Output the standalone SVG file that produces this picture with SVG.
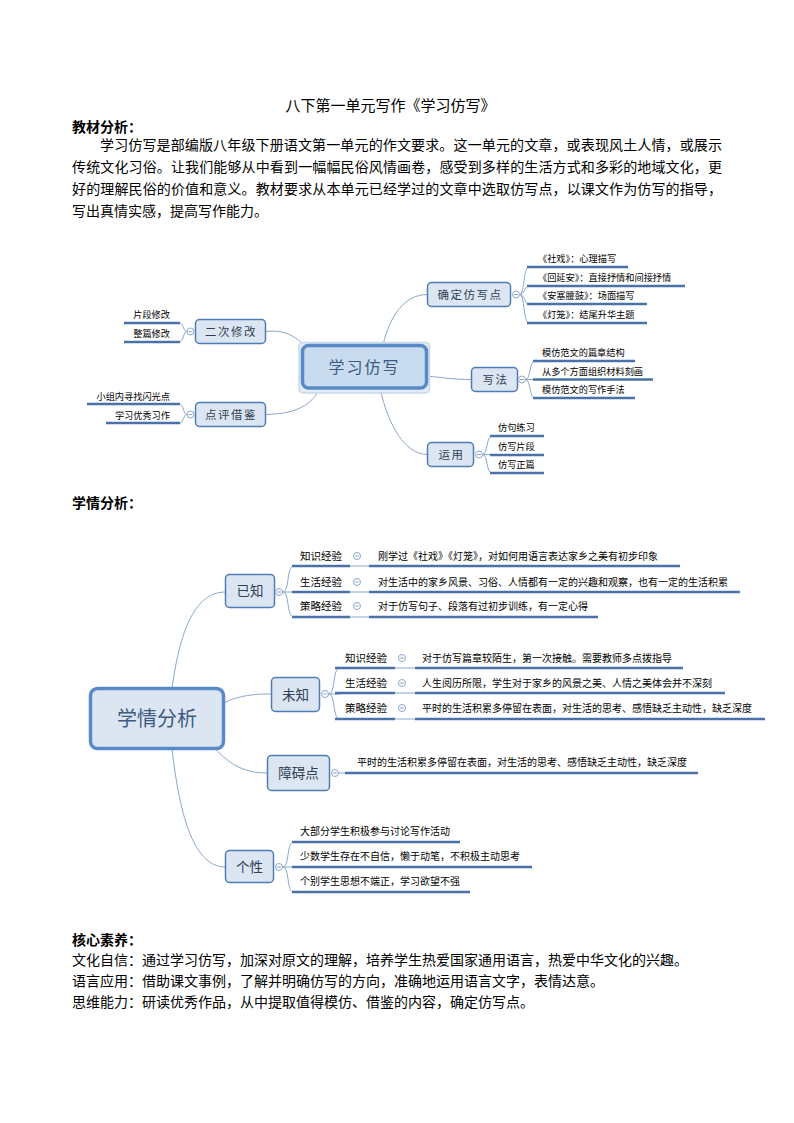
<svg xmlns="http://www.w3.org/2000/svg" width="794" height="1123" viewBox="0 0 794 1123">
<style>
text{font-family:"Liberation Sans","Noto Sans CJK SC",sans-serif;fill:#000}
.body{font-size:14px}
.bold{font-size:14px;font-weight:bold}
.node{fill:#dce6f2;stroke:#4f7cb5;stroke-width:1.5}
.ntxt{font-size:11.5px;fill:#2f3f55;text-anchor:middle;letter-spacing:1.5px}
.ntxt2{font-size:13.5px;fill:#2f3f55;text-anchor:middle}
.leaf{font-size:9.2px}
.leaf2{font-size:10px}
.lab{font-size:10.5px}
.ul{stroke:#4a72a8;stroke-width:2.4;fill:none}
.thin{stroke:#8aa6cc;stroke-width:1;fill:none}
.tog{fill:#fff;stroke:#8aa6cc;stroke-width:1}
.togm{stroke:#8aa6cc;stroke-width:1}
</style>
<defs>
<g id="toggle"><circle r="3.5" class="tog"/><line x1="-2" y1="0" x2="2" y2="0" class="togm"/></g>
</defs>

<!-- header text -->
<text x="390.5" y="111" text-anchor="middle" style="font-size:15px">八下第一单元写作《学习仿写》</text>
<text x="72" y="132" class="bold">教材分析：</text>
<text x="100" y="150" class="body" textLength="622" lengthAdjust="spacing">学习仿写是部编版八年级下册语文第一单元的作文要求。这一单元的文章，或表现风土人情，或展示</text>
<text x="72" y="172" class="body" textLength="650" lengthAdjust="spacing">传统文化习俗。让我们能够从中看到一幅幅民俗风情画卷，感受到多样的生活方式和多彩的地域文化，更</text>
<text x="72" y="194" class="body" textLength="650" lengthAdjust="spacing">好的理解民俗的价值和意义。教材要求从本单元已经学过的文章中选取仿写点，以课文作为仿写的指导，</text>
<text x="72" y="216" class="body">写出真情实感，提高写作能力。</text>

<!-- map 1 connectors -->
<g id="connectors1">
<path class="thin" d="M265.5,331.5 C285,329 296,337 305,346"/>
<path class="thin" d="M265.5,414.5 C296,414 312,405 320,388"/>
<path class="thin" d="M383,345 C390,315 405,294.5 427.5,294.5"/>
<path class="thin" d="M427,376 C445,378 455,379.5 471.5,379.5"/>
<path class="thin" d="M380,388 C388,425 405,454.5 427.5,454.5"/>
<!-- brackets -->
<path class="thin" d="M187,331.5 C183,331.5 184,323 179,323 M187,331.5 C183,331.5 184,342 179,342"/>
<path class="thin" d="M187,414.5 C183,414.5 184,404 179,404 M187,414.5 C183,414.5 184,423 179,423"/>
<path class="thin" d="M519.5,294.5 C525,294.5 523,267 529,267 M519.5,294.5 C525,294.5 524,286 529,286 M519.5,294.5 C525,294.5 524,304 529,304 M519.5,294.5 C525,294.5 523,323 529,323"/>
<path class="thin" d="M525.5,379.5 C531,379.5 529,361 535,361 M525.5,379.5 H535 M525.5,379.5 C531,379.5 529,398 535,398"/>
<path class="thin" d="M482.5,454.5 C488,454.5 486,436 492,436 M482.5,454.5 H492 M482.5,454.5 C488,454.5 486,473 492,473"/>
<!-- leaf underlines -->
<path class="ul" d="M124,323 H180 M124,342 H180 M87,404 H180 M106,423 H180"/>
<path class="ul" d="M527,267 H628 M527,286 H685 M527,304 H647 M527,323 H647"/>
<path class="ul" d="M533,361 H635 M533,379.5 H653 M533,398 H635"/>
<path class="ul" d="M490,436 H544 M490,455 H544 M490,473 H544"/>
</g>

<!-- map 1 nodes -->
<g id="center1">
<rect x="299" y="342.5" width="130.5" height="50.5" rx="4" fill="#e3ebf5" stroke="#c9d8ea" stroke-width="1.5"/>
<rect x="302.5" y="345.5" width="124" height="42.5" rx="6" fill="#c9dbef" stroke="#5a8ac6" stroke-width="3.5"/>
<text x="364.5" y="373" text-anchor="middle" style="font-size:16px;fill:#3d5a80;letter-spacing:2px">学习仿写</text>
</g>
<g id="n-erci">
<rect class="node" x="195.5" y="319.5" width="70" height="24" rx="4"/>
<text class="ntxt" x="231" y="335.5">二次修改</text>
<use href="#toggle" x="190.5" y="331.5"/>
<text class="leaf" x="170" y="318" text-anchor="end">片段修改</text>
<text class="leaf" x="170" y="337" text-anchor="end">整篇修改</text>
</g>
<g id="n-dianping">
<rect class="node" x="195.5" y="402.5" width="70" height="24" rx="4"/>
<text class="ntxt" x="231" y="418.5">点评借鉴</text>
<use href="#toggle" x="190.5" y="414.5"/>
<text class="leaf" x="170" y="400" text-anchor="end">小组内寻找闪光点</text>
<text class="leaf" x="170" y="419" text-anchor="end">学习优秀习作</text>
</g>
<g id="n-queding">
<rect class="node" x="427.5" y="282.5" width="83" height="24" rx="4"/>
<text class="ntxt" x="470" y="298.5">确定仿写点</text>
<use href="#toggle" x="516" y="294.5"/>
<text class="leaf" x="538" y="262">《社戏》：心理描写</text>
<text class="leaf" x="538" y="281">《回延安》：直接抒情和间接抒情</text>
<text class="leaf" x="538" y="299">《安塞腰鼓》：场面描写</text>
<text class="leaf" x="538" y="318">《灯笼》：结尾升华主题</text>
</g>
<g id="n-xiefa">
<rect class="node" x="471.5" y="367.5" width="46" height="24" rx="4"/>
<text class="ntxt" x="495.5" y="383.5">写法</text>
<use href="#toggle" x="522" y="379.5"/>
<text class="leaf" x="542" y="356">模仿范文的篇章结构</text>
<text class="leaf" x="542" y="374.5">从多个方面组织材料刻画</text>
<text class="leaf" x="542" y="393">模仿范文的写作手法</text>
</g>
<g id="n-yunyong">
<rect class="node" x="427.5" y="442.5" width="46" height="24" rx="4"/>
<text class="ntxt" x="451.5" y="458.5">运用</text>
<use href="#toggle" x="479" y="454.5"/>
<text class="leaf" x="498" y="431">仿句练习</text>
<text class="leaf" x="498" y="450">仿写片段</text>
<text class="leaf" x="498" y="468">仿写正篇</text>
</g>

<text x="72" y="508" class="bold">学情分析：</text>

<!-- map 2 connectors -->
<g id="connectors2">
<path class="thin" d="M172,688.5 C180,630 195,592 225.5,592"/>
<path class="thin" d="M223.5,703 C240,695 255,694 271.5,694"/>
<path class="thin" d="M215,748.5 C230,765 245,773 267.5,773"/>
<path class="thin" d="M172,748.5 C180,820 195,867 225.5,867"/>
<!-- brackets -->
<path class="thin" d="M282.5,592 C290,592 286,566 294,566 M282.5,592 H294 M282.5,592 C290,592 286,617 294,617"/>
<path class="thin" d="M328.5,694 C336,694 332,668 340,668 M328.5,694 H340 M328.5,694 C336,694 332,719 340,719"/>
<path class="thin" d="M338.5,773 H347"/>
<path class="thin" d="M282.5,867 C290,867 286,842 294,842 M282.5,867 H294 M282.5,867 C290,867 286,892 294,892"/>
<path class="thin" d="M350,566 H369 M350,592 H369 M350,617 H369 M395,668 H415 M395,693 H415 M395,719 H415"/>
<!-- underlines -->
<path class="ul" d="M292,566 H350 M292,592 H350 M292,617 H350"/>
<path class="ul" d="M369,566 H680 M369,592 H740 M369,617 H598"/>
<path class="ul" d="M335,668 H395 M335,693 H395 M335,719 H395"/>
<path class="ul" d="M415,668 H683 M415,693 H725 M415,719 H765"/>
<path class="ul" d="M345,773 H698"/>
<path class="ul" d="M292,842 H460 M292,867 H532 M292,892 H470"/>
</g>

<!-- map 2 nodes -->
<g id="center2">
<rect x="90.5" y="688.5" width="133" height="60" rx="7" fill="#dce6f2" stroke="#5a8ac6" stroke-width="3.5"/>
<text x="157" y="726" text-anchor="middle" style="font-size:20px;fill:#3d5a80">学情分析</text>
</g>
<g id="n-yizhi">
<rect class="node" x="225.5" y="574.5" width="49" height="33" rx="4"/>
<text class="ntxt2" x="250" y="596">已知</text>
<use href="#toggle" x="279" y="592"/>
<text class="lab" x="300" y="560">知识经验</text>
<text class="lab" x="300" y="586">生活经验</text>
<text class="lab" x="300" y="610">策略经验</text>
<use href="#toggle" x="357" y="556"/>
<use href="#toggle" x="357" y="582"/>
<use href="#toggle" x="357" y="606"/>
<text class="leaf2" x="378" y="560">刚学过《社戏》《灯笼》，对如何用语言表达家乡之美有初步印象</text>
<text class="leaf2" x="378" y="586">对生活中的家乡风景、习俗、人情都有一定的兴趣和观察，也有一定的生活积累</text>
<text class="leaf2" x="378" y="610">对于仿写句子、段落有过初步训练，有一定心得</text>
</g>
<g id="n-weizhi">
<rect class="node" x="271.5" y="677.5" width="48" height="34" rx="4"/>
<text class="ntxt2" x="295.5" y="699.5">未知</text>
<use href="#toggle" x="325" y="694"/>
<text class="lab" x="345" y="662">知识经验</text>
<text class="lab" x="345" y="687">生活经验</text>
<text class="lab" x="345" y="712">策略经验</text>
<use href="#toggle" x="402" y="658"/>
<use href="#toggle" x="402" y="683"/>
<use href="#toggle" x="402" y="708"/>
<text class="leaf2" x="422" y="662">对于仿写篇章较陌生，第一次接触。需要教师多点拨指导</text>
<text class="leaf2" x="422" y="687">人生阅历所限，学生对于家乡的风景之美、人情之美体会并不深刻</text>
<text class="leaf2" x="422" y="712">平时的生活积累多停留在表面，对生活的思考、感悟缺乏主动性，缺乏深度</text>
</g>
<g id="n-zhangai">
<rect class="node" x="267.5" y="755.5" width="62" height="35" rx="4"/>
<text class="ntxt2" x="298.5" y="778">障碍点</text>
<use href="#toggle" x="335" y="773"/>
<text class="leaf2" x="357" y="766">平时的生活积累多停留在表面，对生活的思考、感悟缺乏主动性，缺乏深度</text>
</g>
<g id="n-gexing">
<rect class="node" x="225.5" y="850.5" width="48" height="32" rx="4"/>
<text class="ntxt2" x="249.5" y="871.5">个性</text>
<use href="#toggle" x="279" y="867"/>
<text class="leaf2" x="300" y="835">大部分学生积极参与讨论写作活动</text>
<text class="leaf2" x="300" y="860">少数学生存在不自信，懒于动笔，不积极主动思考</text>
<text class="leaf2" x="300" y="885">个别学生思想不端正，学习欲望不强</text>
</g>

<!-- footer -->
<text x="72" y="945" class="bold">核心素养：</text>
<text x="72" y="965" class="body">文化自信：通过学习仿写，加深对原文的理解，培养学生热爱国家通用语言，热爱中华文化的兴趣。</text>
<text x="72" y="986" class="body">语言应用：借助课文事例，了解并明确仿写的方向，准确地运用语言文字，表情达意。</text>
<text x="72" y="1007" class="body">思维能力：研读优秀作品，从中提取值得模仿、借鉴的内容，确定仿写点。</text>
</svg>
